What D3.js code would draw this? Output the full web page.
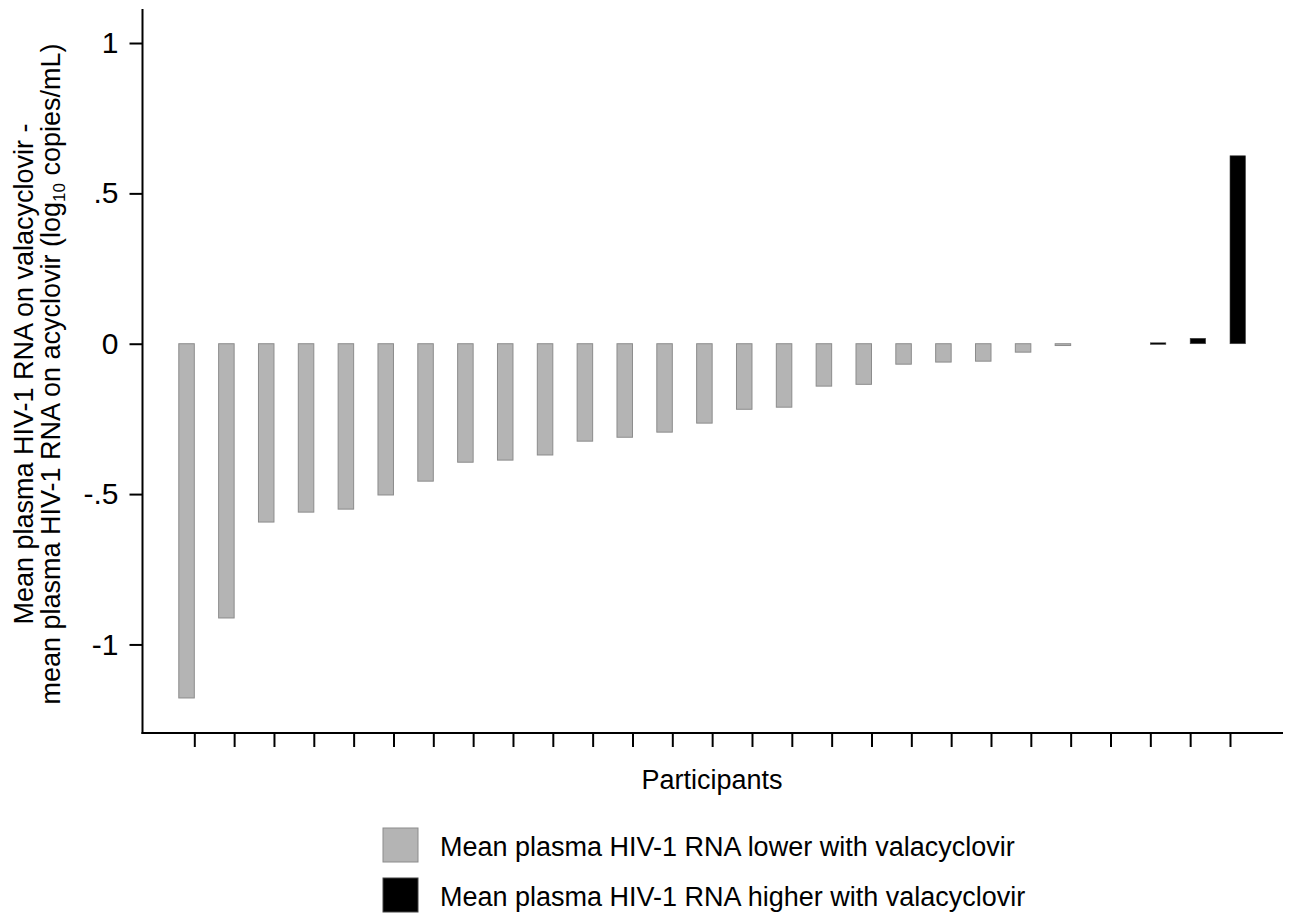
<!DOCTYPE html>
<html>
<head>
<meta charset="utf-8">
<script src="https://cdn.jsdelivr.net/npm/d3@7"></script>
<style>
  body { margin: 0; background: #fff; }
  svg text { font-family: "Liberation Sans", Arial, sans-serif; fill: #000; }
</style>
</head>
<body>
<div class="bar_chart"></div>
<script>
// data: difference in mean log10 HIV-1 RNA per participant
const participants = d3.range(1, 28);
const diffValues = [-1.178, -0.912, -0.593, -0.560, -0.550, -0.503, -0.457, -0.394, -0.387,
                    -0.370, -0.324, -0.311, -0.294, -0.264, -0.218, -0.211, -0.141, -0.135,
                    -0.068, -0.061, -0.058, -0.028, -0.006, 0, 0.003, 0.018, 0.625];
const yTicks = [1, 0.5, 0, -0.5, -1];
const yTickLabels = ["1", ".5", "0", "-.5", "-1"];
const legendLabels = ["Mean plasma HIV-1 RNA lower with valacyclovir",
                      "Mean plasma HIV-1 RNA higher with valacyclovir"];

const data = participants.map((p, i) => ({ p: p, v: diffValues[i] }));

const svg = d3.select(".bar_chart")
              .append("svg")
              .attr("width", 1290)
              .attr("height", 914);

const plotL = 142.5, plotR = 1283, plotT = 9, plotB = 733;

const xScale = d3.scalePoint()
                 .domain(participants)
                 .range([194.3, 1230]);

const yScale = d3.scaleLinear()
                 .domain([-1.2945, 1.1131])
                 .range([plotB, plotT]);

const barW = 15.5;

// bars: lower ones sit left of the tick, higher ones right of it
svg.selectAll(".lowBar")
   .data(data.filter(d => d.v < 0))
   .enter()
   .append("rect")
   .attr("class", "lowBar")
   .attr("x", d => xScale(d.p) - barW)
   .attr("y", d => yScale(0))
   .attr("width", barW)
   .attr("height", d => Math.max(yScale(d.v) - yScale(0), 1.5))
   .attr("fill", "#b4b4b4")
   .attr("stroke", "#8c8c8c")
   .attr("stroke-width", 1);

svg.selectAll(".highBar")
   .data(data.filter(d => d.v > 0))
   .enter()
   .append("rect")
   .attr("class", "highBar")
   .attr("x", d => xScale(d.p))
   .attr("y", d => yScale(d.v))
   .attr("width", barW)
   .attr("height", d => Math.max(yScale(0) - yScale(d.v), 1.5))
   .attr("fill", "#000")
   .attr("stroke", "#444")
   .attr("stroke-width", 0.6);

// y axis
const yAxis = svg.append("g")
                 .attr("transform", "translate(" + plotL + ",0)")
                 .call(d3.axisLeft(yScale)
                         .tickValues(yTicks)
                         .tickSize(13)
                         .tickPadding(11)
                         .tickFormat((d, i) => yTickLabels[i]));
yAxis.select(".domain").remove();
yAxis.selectAll(".tick line").attr("stroke", "#000").attr("stroke-width", 2);
yAxis.selectAll(".tick text").attr("font-size", 30).attr("font-family", "Liberation Sans, Arial, sans-serif");

svg.append("line")
   .attr("x1", plotL).attr("x2", plotL)
   .attr("y1", plotT).attr("y2", plotB + 1)
   .attr("stroke", "#000").attr("stroke-width", 2);

// x axis
const xAxis = svg.append("g")
                 .attr("transform", "translate(0," + plotB + ")")
                 .call(d3.axisBottom(xScale).tickSize(14).tickFormat(""));
xAxis.select(".domain").remove();
xAxis.selectAll(".tick line").attr("stroke", "#000").attr("stroke-width", 2);

svg.append("line")
   .attr("x1", plotL - 1).attr("x2", plotR)
   .attr("y1", plotB).attr("y2", plotB)
   .attr("stroke", "#000").attr("stroke-width", 2);

svg.append("text")
   .text("Participants")
   .attr("x", 712)
   .attr("y", 789)
   .attr("text-anchor", "middle")
   .attr("font-size", 27);

// y title, two lines
const yTitle = svg.append("text")
                  .attr("transform", "translate(33,374) rotate(-90)")
                  .attr("text-anchor", "middle")
                  .attr("font-size", 27);
yTitle.append("tspan").attr("x", 0).attr("y", 0)
      .text("Mean plasma HIV-1 RNA on valacyclovir -");
const line2 = yTitle.append("tspan").attr("x", 0).attr("y", 27);
line2.append("tspan").text("mean plasma HIV-1 RNA on acyclovir (log");
line2.append("tspan").attr("font-size", 17).attr("dy", 5).text("10");
line2.append("tspan").attr("dy", -5).text(" copies/mL)");

// legend
const legend = svg.selectAll(".legendItem")
                  .data(legendLabels)
                  .enter()
                  .append("g")
                  .attr("class", "legendItem")
                  .attr("transform", (d, i) => "translate(383," + (828 + i * 50) + ")");
legend.append("rect")
      .attr("width", 35).attr("height", 34)
      .attr("fill", (d, i) => i === 0 ? "#b4b4b4" : "#000")
      .attr("stroke", (d, i) => i === 0 ? "#8c8c8c" : "#444")
      .attr("stroke-width", 1);
legend.append("text")
      .text(d => d)
      .attr("x", 57)
      .attr("y", 28)
      .attr("font-size", 27);
</script>
</body>
</html>
